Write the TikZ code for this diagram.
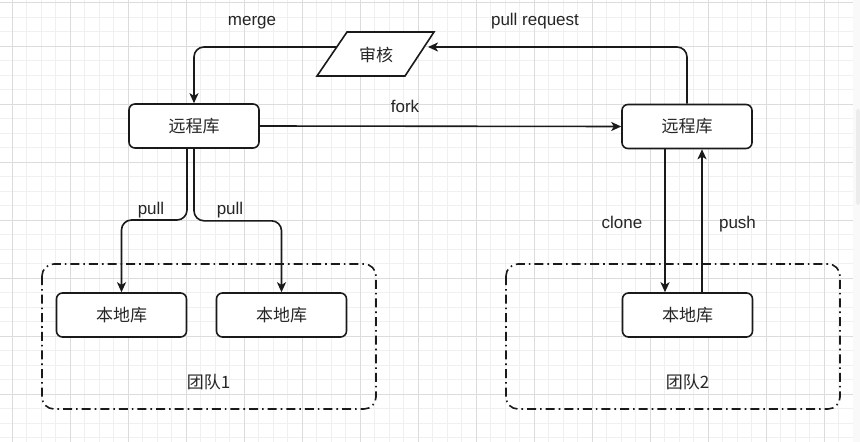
\documentclass[tikz,border=0pt]{standalone}
\usepackage{fontspec}
\setmainfont{Liberation Sans}
\newfontfamily\cjk{Noto Sans CJK SC}
\usetikzlibrary{arrows.meta,calc}
\definecolor{gmin}{HTML}{F0F0F0}
\definecolor{gmaj}{HTML}{DCDCDC}
\definecolor{ink}{HTML}{1A1A1A}
\definecolor{txt}{HTML}{262626}
\tikzset{
  box/.style={draw=ink, line width=1.2pt, rounded corners=4.5pt, fill=white,
    minimum width=97.5pt, minimum height=33pt, inner sep=0pt,
    font=\cjk\fontsize{12.75}{15}\selectfont, text=txt},
  lbl/.style={font=\fontsize{12.75}{15}\selectfont, text=txt, inner sep=0pt,
    text height=9.2pt, text depth=2.7pt},
  cjklbl/.style={font=\cjk\fontsize{12.75}{15}\selectfont, text=txt, inner sep=0pt},
  conn/.style={draw=ink, line width=1.2pt, rounded corners=7.5pt},
  arr/.style={conn, -{Stealth[length=7.5pt,width=6.8pt,inset=2pt]}},
  team/.style={draw=ink, line width=1.2pt, rounded corners=9pt,
    dash pattern=on 6.75pt off 3pt on 1.2pt off 3pt},
}
\begin{document}
\begin{tikzpicture}[x=0.75pt,y=-0.75pt]
\useasboundingbox (0,0) rectangle (860,442);
\fill[white] (0,0) rectangle (860,442);
% grid
\foreach \i in {0,...,57}{
  \pgfmathsetmacro\xx{12+14.5*\i}
  \draw[gmin, line width=0.6pt] (\xx,0) -- (\xx,442);
}
\foreach \i in {1,...,31}{
  \pgfmathsetmacro\yy{-12+14.5*\i}
  \draw[gmin, line width=0.6pt] (0,\yy) -- (853,\yy);
}
\foreach \i in {0,4,...,56}{
  \pgfmathsetmacro\xx{12+14.5*\i}
  \draw[gmaj, line width=0.6pt] (\xx,0) -- (\xx,442);
}
\foreach \i in {4,8,...,28}{
  \pgfmathsetmacro\yy{-12+14.5*\i}
  \draw[gmaj, line width=0.6pt] (0,\yy) -- (853,\yy);
}
\draw[gmaj, line width=0.6pt] (0,2.5) -- (853,2.5);
% scrollbar strip
\fill[gray!5] (853,0) rectangle (860,442);
\fill[gray!15, rounded corners=2pt] (856,109) rectangle (860,205);

% team boxes
\draw[team] (42,264) rectangle (376,409);
\draw[team] (506,264) rectangle (840,409);
\node[cjklbl] (t1) at (208.5,382) {团队1};
\node[cjklbl] (t2) at (687.5,382) {团队2};

% nodes
\node[box] (rL) at (194,126) {远程库};
\node[box] (rR) at (687,126.5) {远程库};
\node[box] (l1) at (121.5,315) {本地库};
\node[box] (l2) at (281.5,315) {本地库};
\node[box] (l3) at (687.5,315) {本地库};

% parallelogram 审核
\draw[draw=ink, line width=1.2pt, fill=white, line join=miter]
  (347,32) -- (434,32) -- (405,76) -- (317,76) -- cycle;
\node[cjklbl] (audit) at (376,55) {审核};
\coordinate (aL) at (337,47);
\coordinate (aR) at (428,47);

% connectors
\draw[arr] (aL) -| (rL.north);
\draw[arr] (rR.north) |- (aR);
\draw[arr] (rL.east) -- (rR.west);
\coordinate (p1) at (187,148);
\draw[arr] (p1) -- ++(0,72) -| (l1.north);
\draw[arr] (rL.south) -- ++(0,72) -| (l2.north);
\coordinate (cx) at (665,0);
\coordinate (px) at (702,0);
\draw[arr] (rR.south -| cx) -- (l3.north -| cx);
\draw[arr] (l3.north -| px) -- (rR.south -| px);

% labels
\node[lbl] (mergeL) at (252,21) {merge};
\node[lbl] (prL) at (535,21) {pull request};
\node[lbl] (forkL) at (405,108.5) {fork};
\node[lbl] (pull1) at (151,210) {pull};
\node[lbl] (pull2) at (230,210) {pull};
\node[lbl] (cloneL) at (622,224.5) {clone};
\node[lbl] (pushL) at (737.5,224.5) {push};
\end{tikzpicture}
\end{document}
